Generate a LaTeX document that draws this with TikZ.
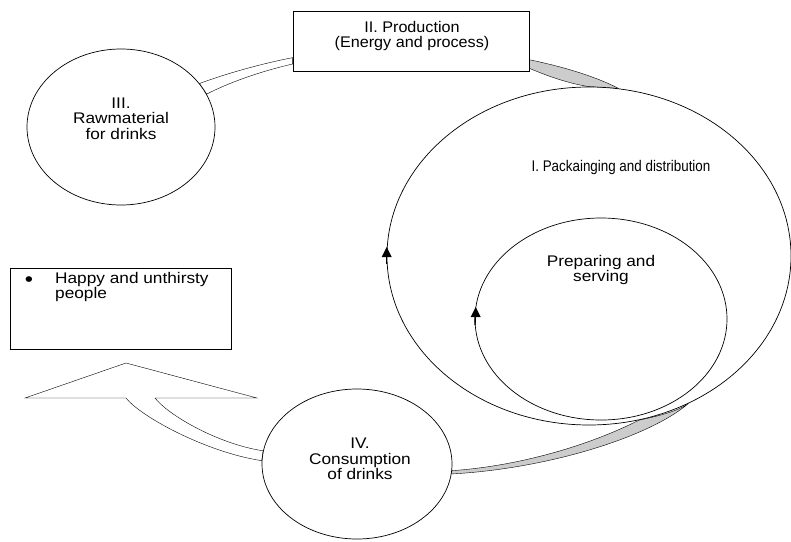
\documentclass[tikz,border=0pt]{standalone}
\usepackage{fontspec}
\setmainfont[FakeStretch=1.12]{Liberation Sans}
\newfontfamily\packfont[FakeStretch=0.87]{Liberation Sans}
\newfontfamily\prodfont[FakeStretch=1.05]{Liberation Sans}
\usetikzlibrary{shapes.geometric,calc,backgrounds}
\begin{document}
\begin{tikzpicture}[x=1pt,y=-1pt,line width=0.7pt,
  oval/.style={draw,ellipse,fill=white,inner sep=0pt},
  box/.style={draw,rectangle,fill=white,inner sep=0pt},
  lbl/.style={align=center,inner sep=0pt,anchor=north,font=\fontsize{15.4}{15.2}\selectfont},
  band/.style={draw,fill=gray!40},
  hollow/.style={draw,fill=white},
  tipmark/.style={fill=black}]
\useasboundingbox (0,0) rectangle (791,541);

% shapes
\node[oval,minimum width=404pt,minimum height=338pt] (pack) at (589,256) {};
\node[oval,minimum width=252pt,minimum height=202pt] (prep) at (601,319) {};
\node[oval,minimum width=188pt,minimum height=156pt] (raw) at (121,127) {};
\node[oval,minimum width=190pt,minimum height=150pt] (cons) at (357,464) {};
\node[box,minimum width=236pt,minimum height=60pt] (prod) at (411,41) {};
\node[box,minimum width=221pt,minimum height=81pt] (happy) at (120.5,308.5) {};

% arrow shape coordinates
\coordinate (a1) at (155,398);
\coordinate (a2) at (257,398);
\coordinate (a3) at (126,363);
\coordinate (a4) at (25,398);
\coordinate (a5) at (126,398);

\begin{pgfonlayer}{background}
  % raw -> production double band
  \draw[hollow] (raw.29) .. controls (225,74) and (260,64) .. (prod.188.2)
    -- (prod.191.5) .. controls (262,71) and (230,82) .. (raw.21) -- cycle;
  % production -> packaging grey band
  \draw[band] (prod.-9.6) .. controls (560,66) and (595,76) .. (pack.80)
    -- (pack.90) .. controls (572,84) and (552,78) .. (prod.-13.5) -- cycle;
  % consumption -> packaging grey band
  \draw[band] (cons.-4) .. controls (520,466) and (590,445) .. (pack.-73)
    .. controls (658,416) and (676,412) .. (pack.-56)
    .. controls (648,438) and (545,469) .. (cons.-6.5) -- cycle;
  % big arrow from consumption to happy people
  \draw[hollow] (cons.172) .. controls (218,444) and (168,415) .. (a1)
    -- (a2) -- (a3) -- (a4) -- (a5)
    .. controls (140,416) and (205,452) .. (cons.178) -- cycle;
\end{pgfonlayer}

% arrowheads on the cycles
\fill[tipmark] ($(pack.west)+(0,-9)$) -- ++(5,10) -- ++(-10,0) -- cycle;
\draw[line width=1.4pt] ($(pack.west)+(0,1)$) -- ($(pack.west)+(0,8)$);
\fill[tipmark] ($(prep.west)+(1,-12)$) -- ++(5,10) -- ++(-10,0) -- cycle;
\draw[line width=1.4pt] ($(prep.west)+(0.6,-2)$) -- ($(prep.west)+(0.3,6)$);

% labels
\node[lbl] (rawt) at (121,98) {III.\\Rawmaterial\\for drinks};
\node[lbl,font=\fontsize{15.4}{15.2}\prodfont] (prodt) at (412,21) {II. Production\\(Energy and process)};
\node[lbl,font=\fontsize{15.4}{15.2}\packfont] (packt) at (621,160) {I. Packainging and distribution};
\node[lbl] (prept) at (601,255) {Preparing and\\serving};
\node[lbl] (const) at (360,438) {IV.\\Consumption\\of drinks};
\node[lbl,anchor=north west,align=left] (happyt) at (55,272) {Happy and unthirsty\\people};
\node[lbl,anchor=base,font=\fontsize{21}{21}\selectfont] (bul) at (29,286) {•};
\end{tikzpicture}
\end{document}
